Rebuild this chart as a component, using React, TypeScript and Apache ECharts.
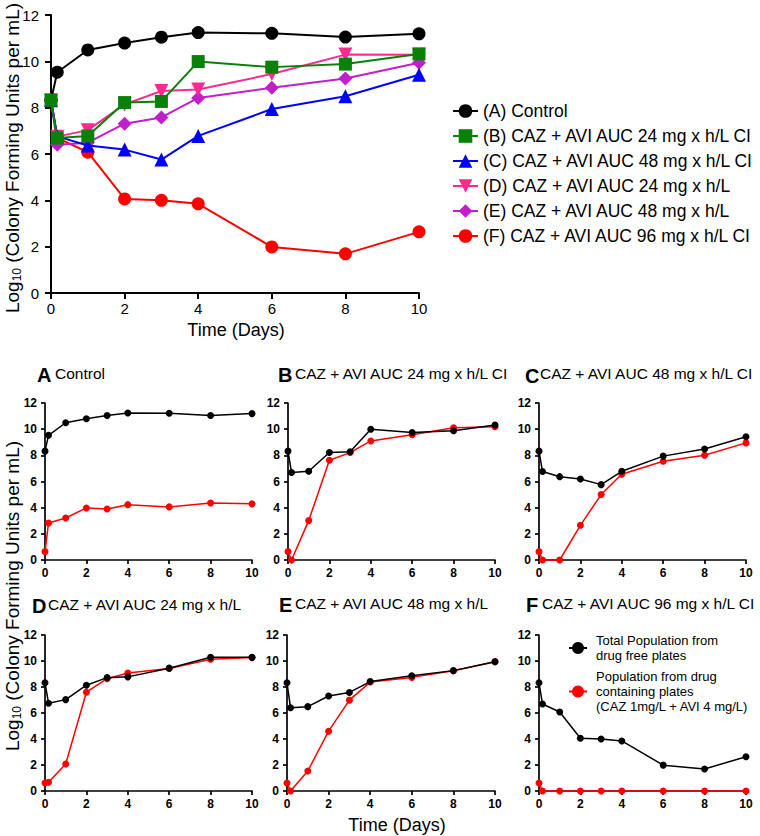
import React, { useEffect, useRef } from 'react';
import * as echarts from 'echarts';

// Time points (days)
const days = [0, 0.17, 1, 2, 3, 4, 6, 8, 10];

// Top chart series names
const namesTop = [
  '(A) Control',
  '(B) CAZ + AVI AUC 24 mg x h/L CI',
  '(C) CAZ + AVI AUC 48 mg x h/L CI',
  '(D) CAZ + AVI AUC 24 mg x h/L',
  '(E) CAZ + AVI AUC 48 mg x h/L',
  '(F) CAZ + AVI AUC 96 mg x h/L CI',
];

// Total population (drug free plates), log10 CFU/mL
const totalA = [8.32, 9.53, 10.49, 10.79, 11.04, 11.24, 11.21, 11.05, 11.19];
const totalB = [8.32, 6.69, 6.78, 8.22, 8.27, 9.99, 9.75, 9.88, 10.32];
const totalC = [8.32, 6.76, 6.37, 6.19, 5.76, 6.78, 7.94, 8.49, 9.42];
const totalD = [8.32, 6.75, 7.03, 8.14, 8.72, 8.78, 9.45, 10.29, 10.28];
const totalE = [8.32, 6.4, 6.49, 7.31, 7.58, 8.42, 8.86, 9.26, 9.94];
const totalF = [8.32, 6.69, 6.08, 4.06, 4.0, 3.85, 1.99, 1.69, 2.64];

// Resistant population (drug containing plates), log10 CFU/mL
const resistA = [0.64, 2.83, 3.21, 3.98, 3.9, 4.23, 4.06, 4.36, 4.29];
const resistB = [0.64, 0, 3.01, 7.63, 8.21, 9.1, 9.57, 10.1, 10.18];
const resistC = [0.64, 0, 0, 2.65, 5.0, 6.56, 7.55, 8.01, 8.95];
const resistD = [0.62, 0.67, 2.08, 7.6, 8.64, 9.07, 9.43, 10.13, 10.26];
const resistE = [0.62, 0, 1.54, 4.6, 6.99, 8.38, 8.74, 9.25, 9.95];
const resistF = [0.62, 0, 0, 0, 0, 0, 0, 0, 0];

const panelLetters = ['A', 'B', 'C', 'D', 'E', 'F'];
const panelTitles = [
  'Control',
  'CAZ + AVI AUC 24 mg x h/L CI',
  'CAZ + AVI AUC 48 mg x h/L CI',
  'CAZ + AVI AUC 24 mg x h/L',
  'CAZ + AVI AUC 48 mg x h/L',
  'CAZ + AVI AUC 96 mg x h/L CI',
];
const legendBottom = [
  'Total Population from\ndrug free plates',
  'Population from drug\ncontaining plates\n(CAZ 1mg/L + AVI 4 mg/L)',
];

const FONT = '"Liberation Sans", Arial, Helvetica, sans-serif';

export default function App() {
  const ref = useRef<HTMLDivElement>(null);

  useEffect(() => {
    const chart = echarts.init(ref.current!, null, { renderer: 'svg' });
    const totals = [totalA, totalB, totalC, totalD, totalE, totalF];
    const resists = [resistA, resistB, resistC, resistD, resistE, resistF];
    const topColors = ['#000000', '#078107', '#0000ff', '#ff2a8f', '#c21fcc', '#ff0000'];
    const topSymbols = ['circle', 'rect', 'triangle', 'triangle', 'diamond', 'circle'];
    const topSizes = [13, 13, 14, 14, 14, 13];
    const topRot = [0, 0, 0, 180, 0, 0];

    const grids: any[] = [{ left: 51, top: 15, width: 368, height: 278 }];
    const panelPos = [
      [45, 403, 207, 157],
      [288, 403, 207, 157],
      [539, 403, 207, 157],
      [45, 635, 207, 156],
      [287, 635, 208, 156],
      [539, 635, 207, 156],
    ];
    panelPos.forEach(([l, t, w, h]) => grids.push({ left: l, top: t, width: w, height: h }));

    const xAxes: any[] = [];
    const yAxes: any[] = [];
    grids.forEach((_, i) => {
      const top = i === 0;
      const axisLine = { show: true, onZero: false, lineStyle: { color: '#000', width: top ? 2 : 1.7 } };
      const axisTick = { show: true, inside: false, length: top ? 6 : 4, lineStyle: { color: '#000', width: top ? 2 : 1.7 } };
      const axisLabel = {
        color: '#000',
        fontFamily: FONT,
        fontSize: top ? 15 : 12,
        fontWeight: top ? 'normal' : 'bold',
      };
      xAxes.push({
        gridIndex: i, type: 'value', min: 0, max: 10, interval: 2,
        axisLine, axisTick, splitLine: { show: false },
        axisLabel: { ...axisLabel, margin: top ? 8 : 7 },
      });
      yAxes.push({
        gridIndex: i, type: 'value', min: 0, max: 12, interval: 2,
        axisLine, axisTick, splitLine: { show: false },
        axisLabel: { ...axisLabel, margin: top ? 12 : 8 },
      });
    });

    const series: any[] = [];
    const order = [5, 4, 3, 2, 0, 1];
    order.forEach((k) => {
      series.push({
        type: 'line', name: namesTop[k], xAxisIndex: 0, yAxisIndex: 0,
        data: days.map((d, j) => [d, totals[k][j]]),
        symbol: topSymbols[k], symbolSize: topSizes[k], symbolRotate: topRot[k],
        itemStyle: { color: topColors[k] },
        lineStyle: { color: topColors[k], width: 2 },
        clip: false, z: 2 + order.indexOf(k),
      });
    });
    for (let p = 0; p < 6; p++) {
      series.push({
        type: 'line', name: legendBottom[1], xAxisIndex: p + 1, yAxisIndex: p + 1,
        data: days.map((d, j) => [d, resists[p][j]]),
        symbol: 'circle', symbolSize: 7,
        itemStyle: { color: '#ff0000' }, lineStyle: { color: '#ff0000', width: 1.5 },
        clip: false, z: 3,
      });
      series.push({
        type: 'line', name: legendBottom[0], xAxisIndex: p + 1, yAxisIndex: p + 1,
        data: days.map((d, j) => [d, totals[p][j]]),
        symbol: 'circle', symbolSize: 7,
        itemStyle: { color: '#000000' }, lineStyle: { color: '#000000', width: 1.5 },
        clip: false, z: 4,
      });
    }

    const titlePos = [
      [37, 375, 55, 373],
      [278, 375, 295, 373],
      [525, 376, 540, 373],
      [32, 606, 48, 604],
      [279, 605, 295, 603],
      [526, 605, 542, 603],
    ];
    const graphics: any[] = [];
    titlePos.forEach(([lx, ly, tx, ty], i) => {
      graphics.push({
        type: 'text', x: lx, y: ly,
        style: { text: panelLetters[i], fontFamily: FONT, fontSize: 20, fontWeight: 'bold', fill: '#000', align: 'left', verticalAlign: 'middle' },
      });
      graphics.push({
        type: 'text', x: tx, y: ty,
        style: { text: panelTitles[i], fontFamily: FONT, fontSize: 15.5, fill: '#000', align: 'left', verticalAlign: 'middle' },
      });
    });
    const yTitle = (cx: number, cy: number) => ({
      type: 'text', x: cx, y: cy, rotation: Math.PI / 2,
      style: {
        text: '{a|Log}{s|10}{a| (Colony Forming Units per mL)}',
        fontFamily: FONT, fontSize: 19, fill: '#000', align: 'center', verticalAlign: 'middle',
        rich: {
          a: { fontFamily: FONT, fontSize: 19, lineHeight: 21, fill: '#000' },
          s: { fontFamily: FONT, fontSize: 12, lineHeight: 13, fill: '#000', verticalAlign: 'bottom' },
        },
      },
    });
    graphics.push(yTitle(12, 158));
    graphics.push(yTitle(12, 596));
    const xTitle = (cx: number, cy: number) => ({
      type: 'text', x: cx, y: cy,
      style: { text: 'Time (Days)', fontFamily: FONT, fontSize: 18, fill: '#000', align: 'center', verticalAlign: 'middle' },
    });
    graphics.push(xTitle(236, 330));
    graphics.push(xTitle(397, 825));

    chart.setOption({
      animation: false,
      backgroundColor: '#ffffff',
      grid: grids,
      xAxis: xAxes,
      yAxis: yAxes,
      series,
      legend: [
        {
          data: namesTop, orient: 'vertical', left: 452, top: 102, padding: 0,
          itemWidth: 25, itemHeight: 17, itemGap: 7,
          textStyle: { fontFamily: FONT, fontSize: 17.5, color: '#000' },
          selectedMode: false,
        },
        {
          data: legendBottom, orient: 'vertical', left: 568, top: 633, padding: 0,
          itemWidth: 18, itemHeight: 15, itemGap: 6,
          textStyle: { fontFamily: FONT, fontSize: 13, lineHeight: 15, color: '#000', padding: [0, 0, 0, 4] },
          selectedMode: false,
        },
      ],
      graphic: graphics,
    });
    return () => chart.dispose();
  }, []);

  return (
    <div
      ref={ref}
      style={{ position: 'absolute', left: 0, top: 0, width: 760, height: 836, background: '#fff' }}
    />
  );
}
